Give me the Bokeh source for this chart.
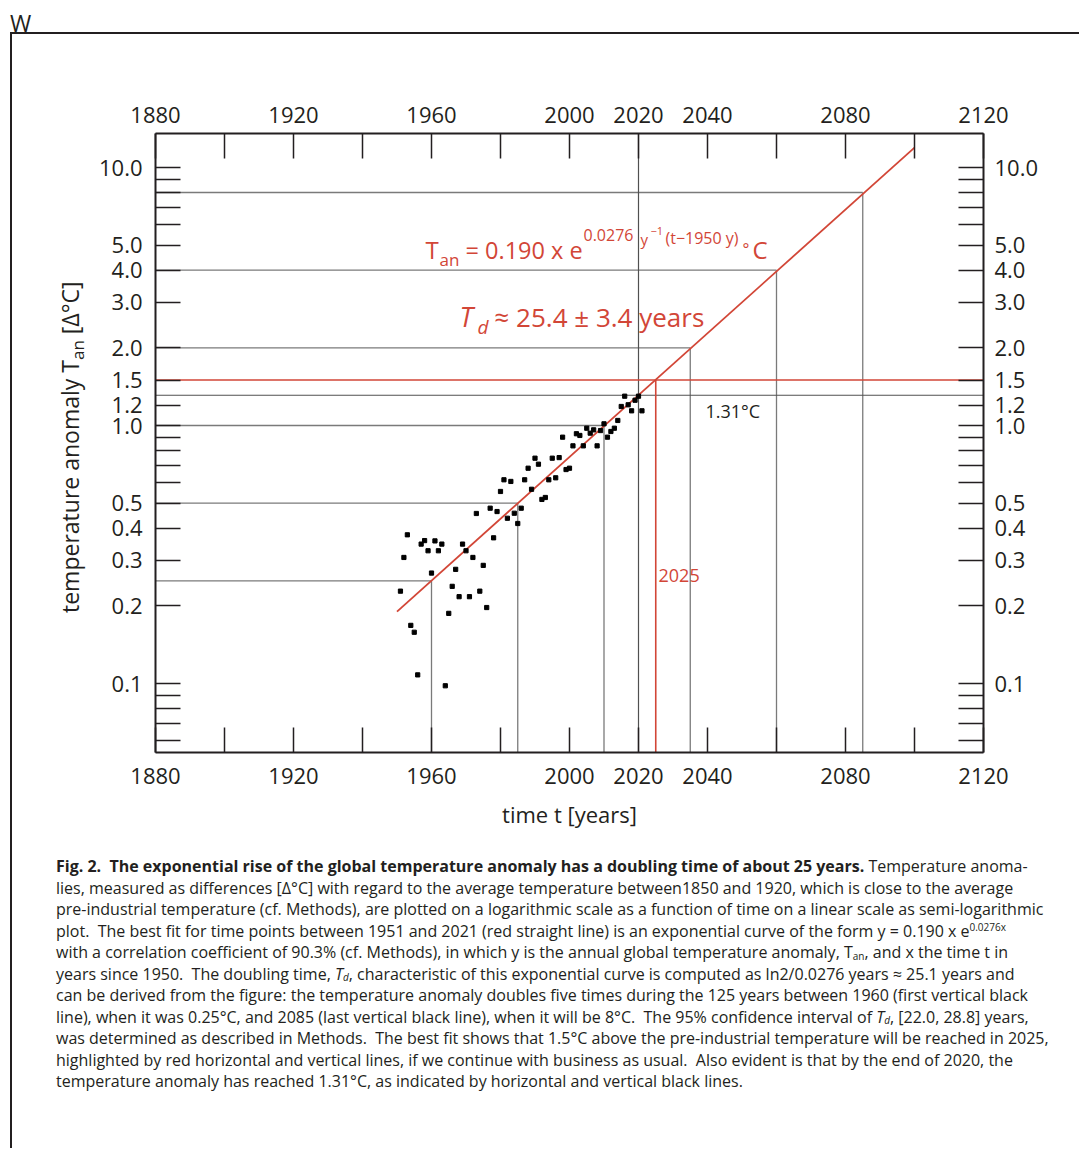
import math
from bokeh.plotting import figure
from bokeh.models import Range1d, FixedTicker, PrintfTickFormatter, LinearAxis, LogAxis, Label, Div
from bokeh.layouts import column, row
from bokeh.embed import file_html
from bokeh.resources import INLINE

# ---------------- data ----------------
years = [1951, 1952, 1953, 1954, 1955, 1956, 1957, 1958, 1959, 1960,
         1961, 1962, 1963, 1964, 1965, 1966, 1967, 1968, 1969, 1970,
         1971, 1972, 1973, 1974, 1975, 1976, 1977, 1978, 1979, 1980,
         1981, 1982, 1983, 1984, 1985, 1986, 1987, 1988, 1989, 1990,
         1991, 1992, 1993, 1994, 1995, 1996, 1997, 1998, 1999, 2000,
         2001, 2002, 2003, 2004, 2005, 2006, 2007, 2008, 2009, 2010,
         2011, 2012, 2013, 2014, 2015, 2016, 2017, 2018, 2019, 2020, 2021]
anomaly = [0.228, 0.308, 0.377, 0.168, 0.158, 0.108, 0.347, 0.358, 0.327, 0.268,
           0.357, 0.327, 0.347, 0.098, 0.187, 0.238, 0.277, 0.217, 0.347, 0.327,
           0.217, 0.308, 0.456, 0.228, 0.287, 0.197, 0.478, 0.367, 0.464, 0.555,
           0.616, 0.437, 0.607, 0.457, 0.417, 0.478, 0.616, 0.683, 0.566, 0.747,
           0.708, 0.517, 0.526, 0.616, 0.747, 0.627, 0.751, 0.901, 0.675, 0.683,
           0.834, 0.929, 0.915, 0.834, 0.976, 0.934, 0.962, 0.834, 0.956, 1.015,
           0.901, 0.948, 0.976, 1.046, 1.185, 1.299, 1.203, 1.140, 1.253, 1.299, 1.140]

fit_a = 0.190
fit_k = 0.0276
fit_t0 = 1950
fit_years = [1950, 2100]
fit_values = [fit_a * math.exp(fit_k * (t - fit_t0)) for t in fit_years]

milestone_years = [1960, 1985, 2010, 2035, 2060, 2085]
milestone_values = [0.25, 0.5, 1.0, 2.0, 4.0, 8.0]
target_year = 2025
target_value = 1.5
now_year = 2020
now_value = 1.31

x_major = [1880, 1920, 1960, 2000, 2020, 2040, 2080, 2120]
x_minor = [1900, 1940, 1980, 2060, 2100]
y_major = [0.1, 0.2, 0.3, 0.4, 0.5, 1.0, 1.2, 1.5, 2.0, 3.0, 4.0, 5.0, 10.0]
y_minor = [0.06, 0.07, 0.08, 0.09, 0.6, 0.7, 0.8, 0.9, 6, 7, 8, 9]

# ---------------- styling ----------------
RED = "#d24637"
INK = "#231f20"
GUIDE = "#7a7a7a"
DARK = "#505050"
FONT = "Open Sans"

# page-pixel -> data helpers (frame: x 155..983, y 133..752)
def X(px):
    return 1880 + (px - 155) * 240 / 828

def Y(py):
    return 10 ** ((425 - py) / 258)

ybot, ytop = Y(752), Y(133)

TOP_H = 34          # header strip ("W" + rule)
VL_W = 12           # left rule strip
LABEL_W = 78        # strip holding the rotated y-axis title
FIG_H = 816

p = figure(width=1079 - VL_W - LABEL_W, height=FIG_H, x_range=Range1d(1880, 2120),
           y_range=Range1d(ybot, ytop), y_axis_type="log", output_backend="svg",
           toolbar_location=None,
           min_border_left=155 - VL_W - LABEL_W, min_border_right=96,
           min_border_top=133 - TOP_H, min_border_bottom=FIG_H - (752 - TOP_H))
p.outline_line_color = None
p.xgrid.visible = False
p.ygrid.visible = False
p.background_fill_color = "white"
p.border_fill_color = "white"

def style_axis(ax, major, minor, standoff):
    ax.ticker = FixedTicker(ticks=major, minor_ticks=minor)
    ax.major_tick_in = 25
    ax.major_tick_out = 0
    ax.minor_tick_in = 25
    ax.minor_tick_out = 0
    ax.major_tick_line_color = INK
    ax.minor_tick_line_color = INK
    ax.major_tick_line_width = 1.5
    ax.minor_tick_line_width = 1.5
    ax.axis_line_color = INK
    ax.axis_line_width = 2
    ax.major_label_text_font = FONT
    ax.major_label_text_font_size = "22px"
    ax.major_label_text_color = INK
    ax.major_label_standoff = standoff

style_axis(p.xaxis[0], x_major, x_minor, 15)
p.xaxis[0].axis_label = "time t [years]"
p.xaxis[0].axis_label_text_font = FONT
p.xaxis[0].axis_label_text_font_size = "22px"
p.xaxis[0].axis_label_text_font_style = "normal"
p.xaxis[0].axis_label_text_color = INK
p.xaxis[0].axis_label_standoff = 12
style_axis(p.yaxis[0], y_major, y_minor, 13)
p.yaxis[0].formatter = PrintfTickFormatter(format="%.1f")

top_ax = LinearAxis()
style_axis(top_ax, x_major, x_minor, 11)
p.add_layout(top_ax, "above")

right_ax = LogAxis()
style_axis(right_ax, y_major, y_minor, 11)
right_ax.formatter = PrintfTickFormatter(format="%.1f")
p.add_layout(right_ax, "right")

# guide lines (horizontal to the left axis, vertical down to the bottom)
n = len(milestone_years)
p.segment(x0=[1880] * n, y0=milestone_values, x1=milestone_years, y1=milestone_values,
          line_color=GUIDE, line_width=1.3)
p.segment(x0=milestone_years, y0=milestone_values, x1=milestone_years, y1=[ybot] * n,
          line_color=GUIDE, line_width=1.3)
# 2020 / 1.31 lines across the whole frame
p.segment(x0=[1880], y0=[now_value], x1=[2120], y1=[now_value], line_color=DARK, line_width=1.2)
p.segment(x0=[now_year], y0=[ybot], x1=[now_year], y1=[ytop], line_color=DARK, line_width=1.2)
# 1.5 / 2025 red lines
p.segment(x0=[1880], y0=[target_value], x1=[2120], y1=[target_value], line_color=RED, line_width=1.6)
p.segment(x0=[target_year], y0=[target_value], x1=[target_year], y1=[ybot], line_color=RED, line_width=1.6)
# fit line
p.line(fit_years, fit_values, line_color=RED, line_width=1.8)
# data points
p.scatter(years, anomaly, marker="square", size=4.2, fill_color="black", line_color="black")

def lab(px, py, text, size, color=RED, style="normal"):
    # (px, py): left edge and visual centre (page pixels)
    p.add_layout(Label(x=X(px), y=Y(py), text=text, text_font=FONT, text_font_size=f"{size}px",
                       text_color=color, text_font_style=style, text_align="left",
                       text_baseline="middle"))

# equation
lab(425, 249, "T", 24)
lab(439, 259, "an", 17)
lab(465, 249.5, "= 0.190 x e", 23.5)
lab(583, 234, "0.0276", 16)
lab(640, 238, "y", 15)
lab(650, 230, "\u22121", 11)
lab(665, 237, "(t\u22121950 y)", 16)
lab(742, 248, "\u00b0", 16)
lab(752, 249, "C", 24)
# doubling time
lab(459, 316, "T", 27, style="italic")
lab(477, 326, "d", 19, style="italic")
lab(494, 316.5, "\u2248 25.4 \u00b1 3.4 years", 26)
# annotations
lab(705, 410, "1.31\u00b0C", 18, color=INK)
lab(658, 575, "2025", 18)

# ---------------- page furniture (HTML) ----------------
top_div = Div(width=1079, height=TOP_H, margin=0, text=(
    '<div style="position:relative;width:1079px;height:%dpx;">'
    '<span style="position:absolute;left:10px;top:11px;font-family:\'Open Sans\';font-size:23px;'
    'line-height:24px;color:#231f20;">W</span>'
    '<div style="position:absolute;left:10px;top:32px;width:1069px;height:2px;background:#231f20;"></div>'
    '</div>') % TOP_H)

VL_H = 1114
vline = Div(width=VL_W, height=VL_H, margin=0, text=(
    '<div style="position:relative;width:%dpx;height:%dpx;">'
    '<div style="position:absolute;left:10px;top:0;width:2px;height:%dpx;background:#231f20;"></div></div>')
    % (VL_W, VL_H, VL_H))

ylabel_div = Div(width=LABEL_W, height=FIG_H, margin=0, text=(
    '<div style="position:relative;width:%dpx;height:%dpx;">'
    '<div style="position:absolute;left:45px;top:%dpx;transform-origin:0 0;transform:rotate(-90deg);'
    'white-space:nowrap;font-family:\'Open Sans\';font-size:23px;line-height:26px;color:#231f20;">'
    'temperature anomaly T<span style="font-size:17px;position:relative;top:5px;">an</span> [&Delta;&deg;C]'
    '</div></div>') % (LABEL_W, FIG_H, 613 - TOP_H))

SUP = '<span style="font-size:10px;line-height:0;position:relative;top:-6px;">%s</span>'
SUB = '<span style="font-size:10px;line-height:0;position:relative;top:1.5px;">%s</span>'
caption_html = (
    '<div style="font-family:\'Open Sans\';font-size:16px;line-height:21.5px;color:#231f20;'
    'white-space:nowrap;padding:6px 0 0 44px;">'
    '<b>Fig. 2.&nbsp; The exponential rise of the global temperature anomaly has a doubling time of about 25 years.</b> Temperature anoma-<br>'
    'lies, measured as differences [&Delta;&deg;C] with regard to the average temperature between1850 and 1920, which is close to the average<br>'
    'pre-industrial temperature (cf. Methods), are plotted on a logarithmic scale as a function of time on a linear scale as semi-logarithmic<br>'
    'plot.&nbsp; The best fit for time points between 1951 and 2021 (red straight line) is an exponential curve of the form y = 0.190 x e' + (SUP % '0.0276x') + '<br>'
    'with a correlation coefficient of 90.3% (cf. Methods), in which y is the annual global temperature anomaly, T' + (SUB % 'an') + ', and x the time t in<br>'
    'years since 1950.&nbsp; The doubling time, <i>T' + (SUB % 'd') + '</i>, characteristic of this exponential curve is computed as ln2/0.0276 years &asymp; 25.1 years and<br>'
    'can be derived from the figure: the temperature anomaly doubles five times during the 125 years between 1960 (first vertical black<br>'
    'line), when it was 0.25&deg;C, and 2085 (last vertical black line), when it will be 8&deg;C.&nbsp; The 95% confidence interval of <i>T' + (SUB % 'd') + '</i>, [22.0, 28.8] years,<br>'
    'was determined as described in Methods.&nbsp; The best fit shows that 1.5&deg;C above the pre-industrial temperature will be reached in 2025,<br>'
    'highlighted by red horizontal and vertical lines, if we continue with business as usual.&nbsp; Also evident is that by the end of 2020, the<br>'
    'temperature anomaly has reached 1.31&deg;C, as indicated by horizontal and vertical black lines.'
    '</div>')
caption = Div(width=1079 - VL_W, height=VL_H - FIG_H, margin=0, text=caption_html)

layout = column(top_div, row(vline, column(row(ylabel_div, p), caption)))

open("out.html", "w").write(file_html(layout, INLINE))
